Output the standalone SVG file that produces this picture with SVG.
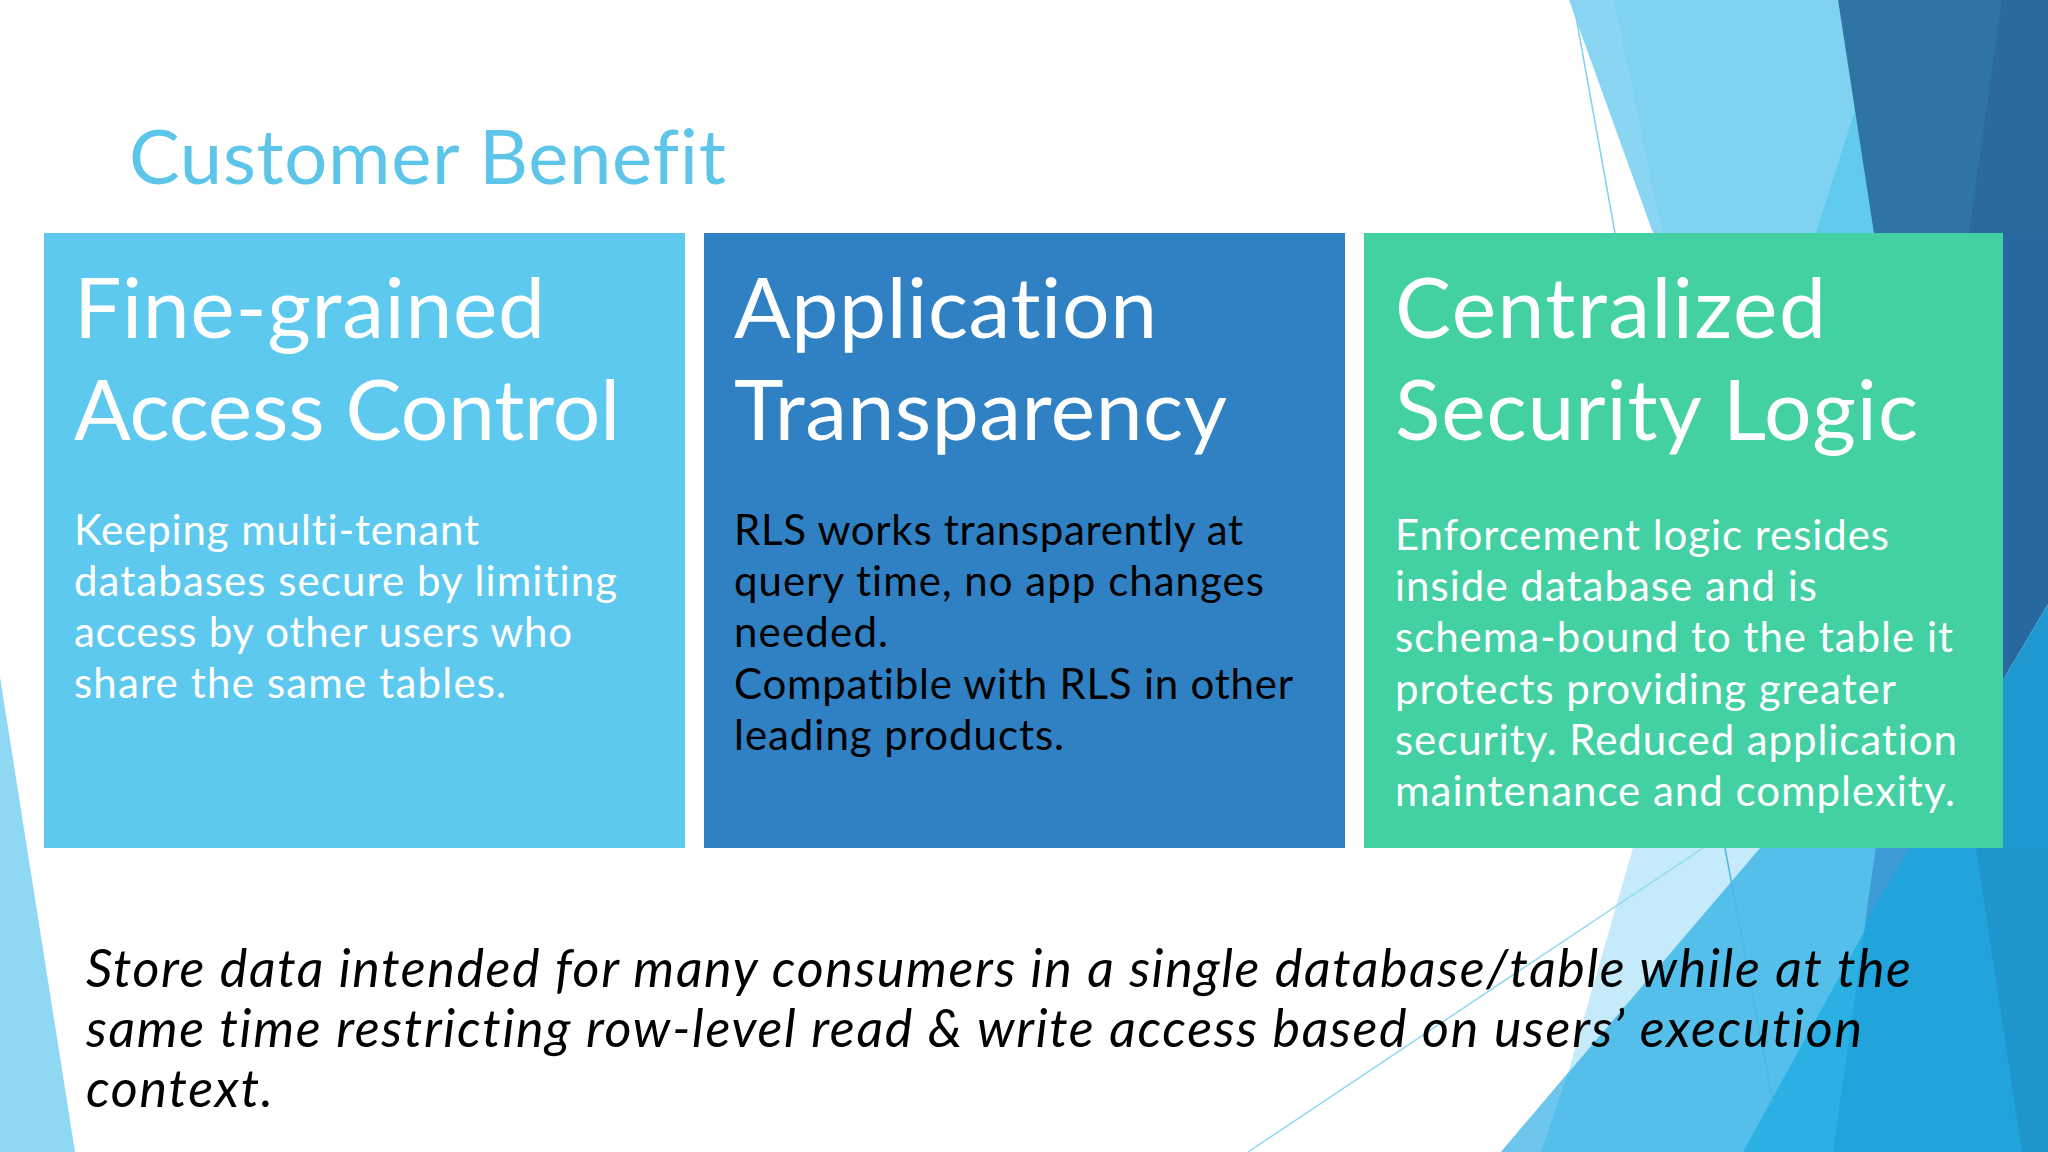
<svg xmlns="http://www.w3.org/2000/svg" width="2048" height="1152" viewBox="0 0 2048 1152">
<style>
text{font-family:"Lato","Noto Sans",sans-serif;font-variant-ligatures:none}
.h{font-size:84px;fill:#fff}
.b{font-size:42px;fill:#fff}
.k{fill:#000}
.f{font-size:52px;font-style:italic;fill:#000}
</style>
<rect width="2048" height="1152" fill="#fff"/>
<g id="deco">
<polygon points="1569,0 1838,0 1875,233 1653,233" fill="#8ad6f2"/>
<polygon points="1614,0 1838,0 1875,233 1662,233" fill="#7fd2f0"/>
<polygon points="1855,110 1875,233 1816,233" fill="#62caee"/>
<polygon points="1838,0 2048,0 2048,240 1875,240" fill="#2e75a6"/>
<polygon points="2002,0 2048,0 2048,240 1968,240" fill="#2a6a9e"/>
<polygon points="2003,233 2048,233 2048,604 2003,680" fill="#2868a0"/>
<polygon points="2048,604 2048,853 2003,853 2003,680" fill="#1f98d0"/>
<polygon points="1633,848 1760,848 1568,1073" fill="#c5eafa"/>
<polygon points="1760,848 1568,1073 1501,1152 2048,1152 2048,848" fill="#55bfec"/>
<polygon points="1568,1073 1501,1152 1541,1152" fill="#6fc6ec"/>
<polygon points="1910,848 2048,848 2048,1152 1743,1152" fill="#2bb0e4"/>
<polygon points="1876,848 2048,848 2048,1152 1833,1152" fill="#21a3dc"/>
<polygon points="1876,848 1910,848 1865,923" fill="#3d9bd5"/>
<polygon points="1976,848 2048,848 2048,1152 2022,1152" fill="#1f95cc"/>
<polygon points="0,677 75,1152 0,1152" fill="#8fd8f3"/>
<line x1="1573" y1="0" x2="1615" y2="233" stroke="#7fd2f0" stroke-width="1.5"/>
<line x1="1703" y1="848" x2="1248" y2="1152" stroke="#8fd8f0" stroke-width="1.5"/>
<line x1="1725" y1="848" x2="1773" y2="1103" stroke="#4ab8e2" stroke-width="1.5"/>
</g>
<text x="129" y="184" font-size="76" fill="#5ec5ea" textLength="597">Customer Benefit</text>
<g id="card1">
<rect x="44" y="233" width="641" height="615" fill="#5ec9ef"/>
<text class="h" x="74" y="338" textLength="471">Fine-grained</text>
<text class="h" x="74" y="440" textLength="546">Access Control</text>
<text class="b" x="74" y="545" textLength="405">Keeping multi-tenant</text>
<text class="b" x="74" y="596" textLength="543">databases secure by limiting</text>
<text class="b" x="74" y="647" textLength="498">access by other users who</text>
<text class="b" x="74" y="698" textLength="432">share the same tables.</text>
</g>
<g id="card2">
<rect x="704" y="233" width="641" height="615" fill="#3080c4"/>
<text class="h" x="734" y="338" textLength="423">Application</text>
<text class="h" x="734" y="440" textLength="493">Transparency</text>
<text class="b k" x="734" y="545" textLength="509">RLS works transparently at</text>
<text class="b k" x="734" y="596" textLength="530">query time, no app changes</text>
<text class="b k" x="734" y="647" textLength="154">needed.</text>
<text class="b k" x="734" y="699" textLength="559">Compatible with RLS in other</text>
<text class="b k" x="734" y="750" textLength="330">leading products.</text>
</g>
<g id="card3">
<rect x="1364" y="233" width="639" height="615" fill="#43d0a3"/>
<text class="h" x="1395" y="338" textLength="431">Centralized</text>
<text class="h" x="1395" y="440" textLength="523">Security Logic</text>
<text class="b" x="1395" y="550" textLength="494">Enforcement logic resides</text>
<text class="b" x="1395" y="601" textLength="422">inside database and is</text>
<text class="b" x="1395" y="652" textLength="558">schema-bound to the table it</text>
<text class="b" x="1395" y="704" textLength="501">protects providing greater</text>
<text class="b" x="1395" y="755" textLength="562">security. Reduced application</text>
<text class="b" x="1395" y="806" textLength="560">maintenance and complexity.</text>
</g>
<g id="footer">
<text class="f" x="86" y="987" textLength="1825">Store data intended for many consumers in a single database/table while at the</text>
<text class="f" x="86" y="1047" textLength="1776">same time restricting row-level read &amp; write access based on users’ execution</text>
<text class="f" x="86" y="1107" textLength="187">context.</text>
</g>
</svg>
